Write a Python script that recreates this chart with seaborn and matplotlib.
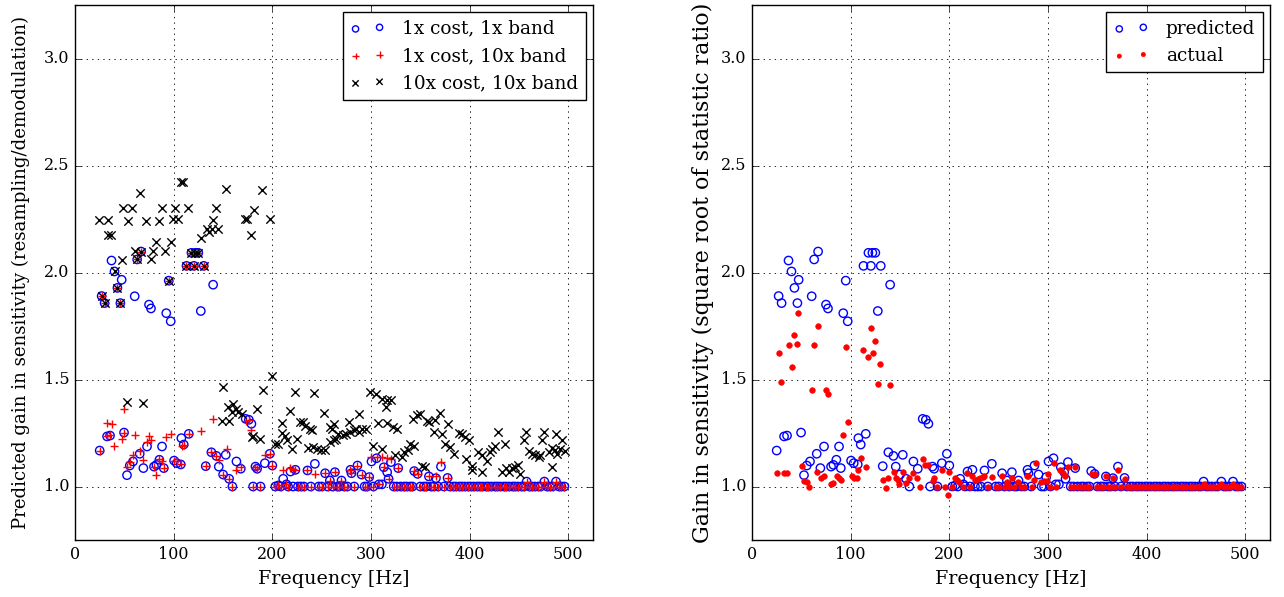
import matplotlib
matplotlib.use("Agg")
import matplotlib.pyplot as plt
import seaborn as sns

# ---------------- data, (frequency [Hz], gain) ----------------
# 1x cost, 1x band  (also the "predicted" series of the right panel)
pred_points = [
    (25, 1.168), (27, 1.89), (30, 1.857), (32.5, 1.234), (35.5, 1.238), (37, 2.056), (40, 2.005),
    (43, 1.928), (46, 1.857), (47.3, 1.966), (49.7, 1.252), (52.7, 1.053), (55.5, 1.098),
    (58.8, 1.117), (60.5, 1.889), (63, 2.061), (65.6, 1.153), (67, 2.098), (69.3, 1.086),
    (73, 1.187), (75, 1.85), (77, 1.832), (80.1, 1.093), (82.5, 1.101), (85.5, 1.125),
    (88.2, 1.187), (90, 1.086), (92.5, 1.81), (95, 1.962), (97, 1.772), (100.4, 1.121),
    (103.1, 1.109), (107.2, 1.103), (107.8, 1.226), (110.2, 1.196), (113, 2.031), (115.3, 1.246),
    (118, 2.092), (120.5, 2.031), (122, 2.092), (125, 2.092), (127.5, 1.82), (130.5, 2.031),
    (132.5, 1.095), (138.2, 1.16), (140, 1.943), (143.3, 1.143), (145.7, 1.093), (150.1, 1.056),
    (152.8, 1.148), (156.2, 1.036), (159.5, 1.0), (163.6, 1.117), (168, 1.083), (173, 1.316),
    (176.2, 1.312), (178.8, 1.293), (180.5, 1.0), (182.9, 1.093), (184.6, 1.083), (188, 1.0),
    (192.4, 1.109), (197.5, 1.153), (200, 1.098), (203, 1.0), (206, 1.005), (208.5, 1.0),
    (211, 1.036), (214.3, 1.01), (216, 1.0), (218.4, 1.07), (221, 1.0), (223.4, 1.078),
    (226, 1.0), (229, 1.0), (232, 1.0), (235.6, 1.075), (239, 1.0), (243.1, 1.106), (247, 1.0),
    (250, 1.0), (253.5, 1.062), (256, 1.0), (258.3, 1.028), (261, 1.0), (263.4, 1.067),
    (266, 1.0), (268, 1.0), (270.1, 1.028), (273, 1.0), (276, 1.0), (279.2, 1.078),
    (280.2, 1.062), (283, 1.0), (286.3, 1.098), (290.4, 1.056), (293.5, 1.0), (296, 1.0),
    (298.2, 1.044), (300.5, 1.117), (302.5, 1.0), (305.6, 1.132), (308, 1.01), (311, 1.01),
    (313, 1.09), (316.4, 1.067), (317.8, 1.036), (320.2, 1.114), (323, 1.0), (326, 1.0),
    (327.6, 1.086), (330, 1.0), (333.5, 1.0), (336, 1.0), (339.5, 1.0), (342, 1.0),
    (343.8, 1.072), (347.2, 1.059), (350, 1.0), (353.5, 1.0), (356, 1.0), (358.7, 1.047),
    (361, 1.0), (363.5, 1.0), (365.8, 1.039), (368, 1.0), (370.9, 1.093), (374, 1.0),
    (377.6, 1.04), (380, 1.0), (383.5, 1.0), (386, 1.0), (389.5, 1.0), (392, 1.0), (395, 1.0),
    (398.5, 1.0), (401, 1.0), (404, 1.0), (407.5, 1.0), (410, 1.0), (413, 1.0), (416.5, 1.0),
    (419, 1.0), (422, 1.0), (425.5, 1.0), (428, 1.0), (431, 1.0), (434.5, 1.0), (437, 1.0),
    (440, 1.0), (443.5, 1.0), (446, 1.0), (449, 1.0), (452.5, 1.0), (455, 1.0), (457.7, 1.023),
    (460.5, 1.0), (463, 1.0), (466, 1.0), (469.5, 1.0), (472, 1.0), (475.7, 1.023), (478.5, 1.0),
    (481, 1.0), (484, 1.0), (487.5, 1.023), (490.5, 1.0), (493, 1.0), (496, 1.0),
]

# 1x cost, 10x band
band_points = [
    (25, 1.168), (27, 1.89), (30, 1.857), (32.1, 1.298), (32.5, 1.234), (35.5, 1.242), (37, 1.293),
    (40, 1.19), (43, 1.928), (46, 1.857), (47.3, 1.223), (49.7, 1.252), (49.9, 1.363),
    (52.7, 1.09), (55.5, 1.114), (58.8, 1.145), (60.5, 1.242), (63, 2.061), (65.6, 1.168),
    (67, 2.098), (69.3, 1.125), (73, 1.207), (75, 1.235), (77, 1.215), (80.1, 1.093),
    (82.5, 1.056), (85.5, 1.129), (88.2, 1.121), (90, 1.086), (92.5, 1.23), (95, 1.962),
    (97, 1.246), (100.4, 1.121), (103.1, 1.12), (107.2, 1.103), (108.8, 1.19), (110.2, 1.196),
    (113, 2.031), (115.3, 1.246), (118, 2.092), (120.5, 2.031), (122, 2.092), (125, 2.092),
    (127.5, 1.258), (130.5, 2.031), (132.5, 1.095), (138.2, 1.16), (140, 1.316), (143.3, 1.143),
    (145.7, 1.125), (150.1, 1.056), (153.8, 1.176), (156.2, 1.036), (159.5, 1.0), (163.6, 1.075),
    (168, 1.09), (173, 1.308), (176.2, 1.312), (178.8, 1.265), (180.5, 1.0), (182.9, 1.093),
    (184.6, 1.083), (188, 1.0), (192.4, 1.145), (197.5, 1.153), (200, 1.098), (203, 1.0),
    (206, 1.005), (208.5, 1.0), (211, 1.078), (214.3, 1.01), (216, 1.0), (218.4, 1.087),
    (221, 1.083), (223.4, 1.078), (226, 1.0), (229, 1.0), (232, 1.0), (235.6, 1.075), (239, 1.0),
    (243.1, 1.06), (247, 1.0), (250, 1.0), (253.5, 1.062), (256, 1.0), (258.3, 1.028),
    (261, 1.0), (263.4, 1.067), (266, 1.0), (268, 1.0), (270.1, 1.028), (273, 1.0), (276, 1.0),
    (279.2, 1.078), (280.2, 1.062), (283, 1.0), (286.3, 1.098), (290.4, 1.056), (293.5, 1.0),
    (296, 1.0), (298.2, 1.044), (300.5, 1.137), (302.5, 1.0), (305.6, 1.137), (308, 1.01),
    (311, 1.137), (313, 1.09), (316.4, 1.132), (317.8, 1.036), (320.2, 1.13), (323, 1.0),
    (326, 1.0), (327.6, 1.086), (330, 1.0), (333.5, 1.0), (336, 1.0), (339.5, 1.0), (342, 1.0),
    (343.8, 1.072), (347.2, 1.059), (350, 1.0), (353.5, 1.0), (356, 1.0), (358.7, 1.047),
    (361, 1.0), (363.5, 1.0), (365.8, 1.05), (368, 1.0), (370.9, 1.114), (374, 1.0),
    (377.6, 1.04), (380, 1.0), (383.5, 1.0), (386, 1.0), (389.5, 1.0), (392, 1.0), (395, 1.0),
    (398.5, 1.0), (401, 1.0), (404, 1.0), (407.5, 1.0), (410, 1.0), (413, 1.0), (416.5, 1.0),
    (419, 1.0), (422, 1.0), (425.5, 1.0), (428, 1.0), (431, 1.0), (434.5, 1.0), (437, 1.0),
    (440, 1.0), (443.5, 1.0), (446, 1.0), (449, 1.0), (452.5, 1.0), (455, 1.0), (457.7, 1.023),
    (460.5, 1.0), (463, 1.0), (466, 1.0), (469.5, 1.0), (472, 1.0), (475.7, 1.023), (478.5, 1.0),
    (481, 1.0), (484, 1.0), (487.5, 1.023), (490.5, 1.0), (493, 1.0), (496, 1.0),
]

# 10x cost, 10x band
cost_points = [
    (24.7, 2.246), (27, 1.89), (30, 1.857), (33.1, 2.173), (33.8, 2.246), (36.5, 2.173),
    (40.6, 2.009), (43, 1.928), (46, 1.857), (47.3, 2.059), (49, 2.30), (52.4, 1.394),
    (54.1, 2.24), (57.5, 2.30), (60.9, 2.10), (63, 2.061), (65.9, 2.371), (67, 2.098),
    (69.3, 1.391), (72, 2.24), (77.1, 2.064), (79.4, 2.10), (81.8, 2.142), (85.2, 2.24),
    (87.9, 2.30), (91.3, 2.10), (95, 1.962), (97, 2.142), (99.7, 2.251), (101.4, 2.30),
    (104.8, 2.251), (107, 2.422), (109, 2.422), (113, 2.031), (114.9, 2.30), (118, 2.092),
    (120.5, 2.031), (122, 2.092), (125, 2.092), (127.8, 2.16), (130.5, 2.031), (133.5, 2.204),
    (135.5, 2.19), (138.6, 2.204), (139.8, 2.246), (142.7, 2.30), (145.4, 2.204), (148.7, 1.308),
    (149.8, 1.464), (152.8, 2.388), (155.5, 1.37), (156.5, 1.308), (158.9, 1.347), (160.5, 1.386),
    (163.3, 1.363), (165.6, 1.347), (169, 1.34), (172, 2.25), (174, 2.25), (178, 2.173),
    (179, 1.23), (180.8, 1.234), (181, 2.29), (184.3, 1.36), (187.6, 1.223), (190, 2.385),
    (190.5, 1.452), (198, 2.25), (199.5, 1.515), (202.8, 1.2), (206.2, 1.2), (209.6, 1.296),
    (209.8, 1.249), (213, 1.234), (214.7, 1.215), (218, 1.355), (219.8, 1.176), (223, 1.44),
    (224.8, 1.22), (228.2, 1.30), (231.5, 1.30), (233.3, 1.285), (236, 1.18), (238.3, 1.27),
    (240, 1.262), (241, 1.185), (242.4, 1.438), (245, 1.175), (249, 1.17), (252.5, 1.343),
    (253, 1.17), (258.6, 1.28), (258.8, 1.21), (260.3, 1.27), (262, 1.293), (262.5, 1.215),
    (265, 1.22), (267, 1.245), (272, 1.24), (275, 1.245), (278.2, 1.30), (279, 1.255),
    (283, 1.265), (285, 1.27), (287.4, 1.34), (288, 1.255), (291, 1.27), (295, 1.27),
    (299.2, 1.44), (302.5, 1.187), (305.3, 1.433), (307.6, 1.296), (311, 1.41), (311.5, 1.176),
    (315.4, 1.37), (316, 1.405), (316.1, 1.296), (320.2, 1.405), (322.8, 1.277), (324.5, 1.145),
    (326.2, 1.27), (331.3, 1.137), (333, 1.16), (338, 1.171), (339.8, 1.2), (343, 1.316),
    (343.1, 1.187), (346.5, 1.336), (350, 1.34), (351.6, 1.098), (355, 1.09), (356.7, 1.308),
    (358.3, 1.30), (363.4, 1.254), (365.1, 1.31), (370.2, 1.343), (371.9, 1.246), (375.3, 1.2),
    (377.6, 1.293), (380.3, 1.184), (383.7, 1.153), (388.7, 1.249), (392.2, 1.246), (395.5, 1.23),
    (396.6, 1.13), (398.9, 1.215), (402.3, 1.098), (402.8, 1.075), (408, 1.16), (412.5, 1.145),
    (413, 1.067), (417.5, 1.121), (420.9, 1.16), (422.6, 1.176), (426, 1.187), (428.3, 1.254),
    (432.7, 1.07), (435.4, 1.2), (437, 1.085), (440, 1.07), (443, 1.085), (446, 1.09), (449, 1.1),
    (451.3, 1.06), (455.4, 1.215), (457.4, 1.254), (459.7, 1.168), (463.2, 1.153), (466.5, 1.145),
    (469.9, 1.14), (471.6, 1.145), (473.3, 1.215), (475, 1.254), (480, 1.16), (483, 1.18),
    (483.4, 1.093), (486, 1.17), (487.8, 1.246), (489, 1.15), (492, 1.175), (493.6, 1.215),
    (497, 1.168),
]

# actual (right panel)
act_points = [
    (25, 1.062), (27.7, 1.623), (29.7, 1.49), (32.5, 1.062), (35.2, 1.062), (37.2, 1.659),
    (40.2, 1.557), (42.9, 1.71), (46, 1.665), (47, 1.813), (50.4, 1.098), (53, 1.025),
    (55.5, 1.02), (58.1, 1.0), (60.5, 1.453), (63.2, 1.662), (65.6, 1.067), (67.3, 1.749),
    (69.7, 1.04), (72.7, 1.047), (75, 1.45), (77.4, 1.431), (80.1, 1.01), (82.5, 1.015),
    (86.5, 1.05), (88.6, 1.04), (90.3, 1.03), (92.6, 1.24), (95, 1.651), (97, 1.30),
    (100.9, 1.05), (103.6, 1.04), (106.6, 1.042), (107.8, 1.078), (110.2, 1.132), (113, 1.64),
    (115.3, 1.093), (118, 1.607), (120.4, 1.74), (122.4, 1.623), (125, 1.678), (127.5, 1.48),
    (130.1, 1.573), (132.5, 1.03), (136, 0.995), (138.2, 1.04), (140.3, 1.472), (143.9, 1.067),
    (145.6, 1.04), (148.3, 1.03), (148.9, 1.013), (152.8, 1.07), (156.2, 1.015), (159.5, 1.04),
    (163.6, 1.062), (167, 1.04), (170.7, 1.0), (173.1, 1.13), (175.5, 1.1), (178.8, 1.1),
    (183, 1.025), (184.6, 1.04), (188, 1.0), (192.4, 1.078), (195.8, 1.0), (198.3, 0.96),
    (200, 1.07), (203, 1.0), (205.6, 1.04), (208, 1.03), (210, 1.02), (214, 1.0), (218.4, 1.062),
    (221, 1.0), (223.4, 1.05), (226, 1.03), (229, 1.036), (231, 1.04), (234, 1.045),
    (235.6, 1.05), (239, 1.0), (243.1, 1.044), (247, 1.0), (250, 1.0), (253.8, 1.047),
    (256, 1.0), (258.7, 1.02), (261, 1.0), (263.4, 1.04), (266, 1.0), (270, 1.02), (273, 1.0),
    (276, 1.0), (279, 1.05), (280.2, 1.05), (283.6, 1.0), (286.3, 1.03), (288, 1.109),
    (292.4, 1.02), (295.8, 1.025), (298.5, 1.025), (300.5, 1.06), (302.5, 1.0), (305.6, 1.11),
    (308, 1.0), (311.7, 1.078), (314.7, 1.062), (317.4, 1.047), (320.2, 1.09), (323, 1.0),
    (326, 1.0), (327.6, 1.09), (330, 1.0), (333.5, 1.0), (336, 1.0), (339.5, 1.0), (342, 1.0),
    (344.5, 1.06), (347.9, 1.06), (350, 1.0), (353.5, 1.0), (356, 1.0), (358.7, 1.05),
    (361, 1.0), (363.5, 1.0), (365.5, 1.04), (368, 1.0), (370.9, 1.078), (374, 1.0),
    (377.6, 1.035), (380, 1.0), (383.5, 1.0), (386, 1.0), (389.5, 1.0), (392, 1.0), (395, 1.0),
    (398.5, 1.0), (401, 1.0), (404, 1.0), (407.5, 1.0), (410, 1.0), (413, 1.0), (416.5, 1.0),
    (419, 1.0), (422, 1.0), (425.5, 1.0), (428, 1.0), (431, 1.0), (434.5, 1.0), (437, 1.0),
    (440, 1.0), (443.5, 1.0), (446, 1.0), (449, 1.0), (452.5, 1.0), (455, 1.0), (457.7, 1.01),
    (460.5, 1.0), (463, 1.0), (466, 1.0), (469.5, 1.0), (472, 1.0), (475.7, 1.01), (478.5, 1.0),
    (481, 1.0), (484, 1.0), (487.5, 1.01), (490.5, 1.0), (493, 1.0), (496, 1.0),
]

x_ticks = [0, 100, 200, 300, 400, 500]
y_ticks = [1.0, 1.5, 2.0, 2.5, 3.0]


def split(points):
    return [p[0] for p in points], [p[1] for p in points]


pred_freq, pred_gain = split(pred_points)
band_freq, band_gain = split(band_points)
cost_freq, cost_gain = split(cost_points)
act_freq, act_gain = split(act_points)

# ---------------- style ----------------
plt.style.use("classic")
plt.rcParams["font.family"] = ["DejaVu Serif"]

W, H = 1284, 597
fig = plt.figure(figsize=(W / 100, H / 100), dpi=100, facecolor="white")
ax1 = fig.add_axes([75 / W, 1 - 540 / H, (593 - 75) / W, (540 - 5) / H])
ax2 = fig.add_axes([752 / W, 1 - 540 / H, (1270 - 752) / W, (540 - 5) / H])

ms = 36  # marker area (pt^2)

sns.scatterplot(x=pred_freq, y=pred_gain, ax=ax1, marker="o", s=ms, facecolors="none",
                edgecolor="blue", linewidth=1.0, label="1x cost, 1x band", zorder=3)
sns.scatterplot(x=band_freq, y=band_gain, ax=ax1, marker="+", s=ms, color="red",
                linewidth=1.0, label="1x cost, 10x band", zorder=4)
sns.scatterplot(x=cost_freq, y=cost_gain, ax=ax1, marker="x", s=ms, color="black",
                linewidth=1.0, label="10x cost, 10x band", zorder=5)

sns.scatterplot(x=pred_freq, y=pred_gain, ax=ax2, marker="o", s=ms, facecolors="none",
                edgecolor="blue", linewidth=1.0, label="predicted", zorder=3)
sns.scatterplot(x=act_freq, y=act_gain, ax=ax2, marker="o", s=16, color="red",
                edgecolor="red", linewidth=0.5, label="actual", zorder=4)

for ax in (ax1, ax2):
    ax.set_xlim(0, 525)
    ax.set_ylim(0.75, 3.25)
    ax.set_xticks(x_ticks)
    ax.set_yticks(y_ticks)
    ax.set_yticklabels([f"{t:.1f}" for t in y_ticks])
    ax.tick_params(labelsize=11.5, direction="in", top=True, right=True, length=4)
    ax.grid(True, color="black", linestyle=":", linewidth=0.6)
    ax.set_axisbelow(True)
    ax.set_xlabel("Frequency [Hz]", fontsize=13.8)

ax1.set_ylabel("Predicted gain in sensitivity (resampling/demodulation)", fontsize=13.1,
               labelpad=10)
ax2.set_ylabel("Gain in sensitivity (square root of statistic ratio)", fontsize=15.9)

for ax in (ax1, ax2):
    leg = ax.legend(loc="upper right", scatterpoints=2, markerscale=0.75, fontsize=13.3,
                    fancybox=False, borderaxespad=0.4, labelspacing=0.5,
                    handlelength=1.9, handletextpad=0.92, borderpad=0.4)
    leg.get_frame().set_edgecolor("black")
    leg.get_frame().set_linewidth(1.0)

fig.savefig("out.png", dpi=100, facecolor="white")
